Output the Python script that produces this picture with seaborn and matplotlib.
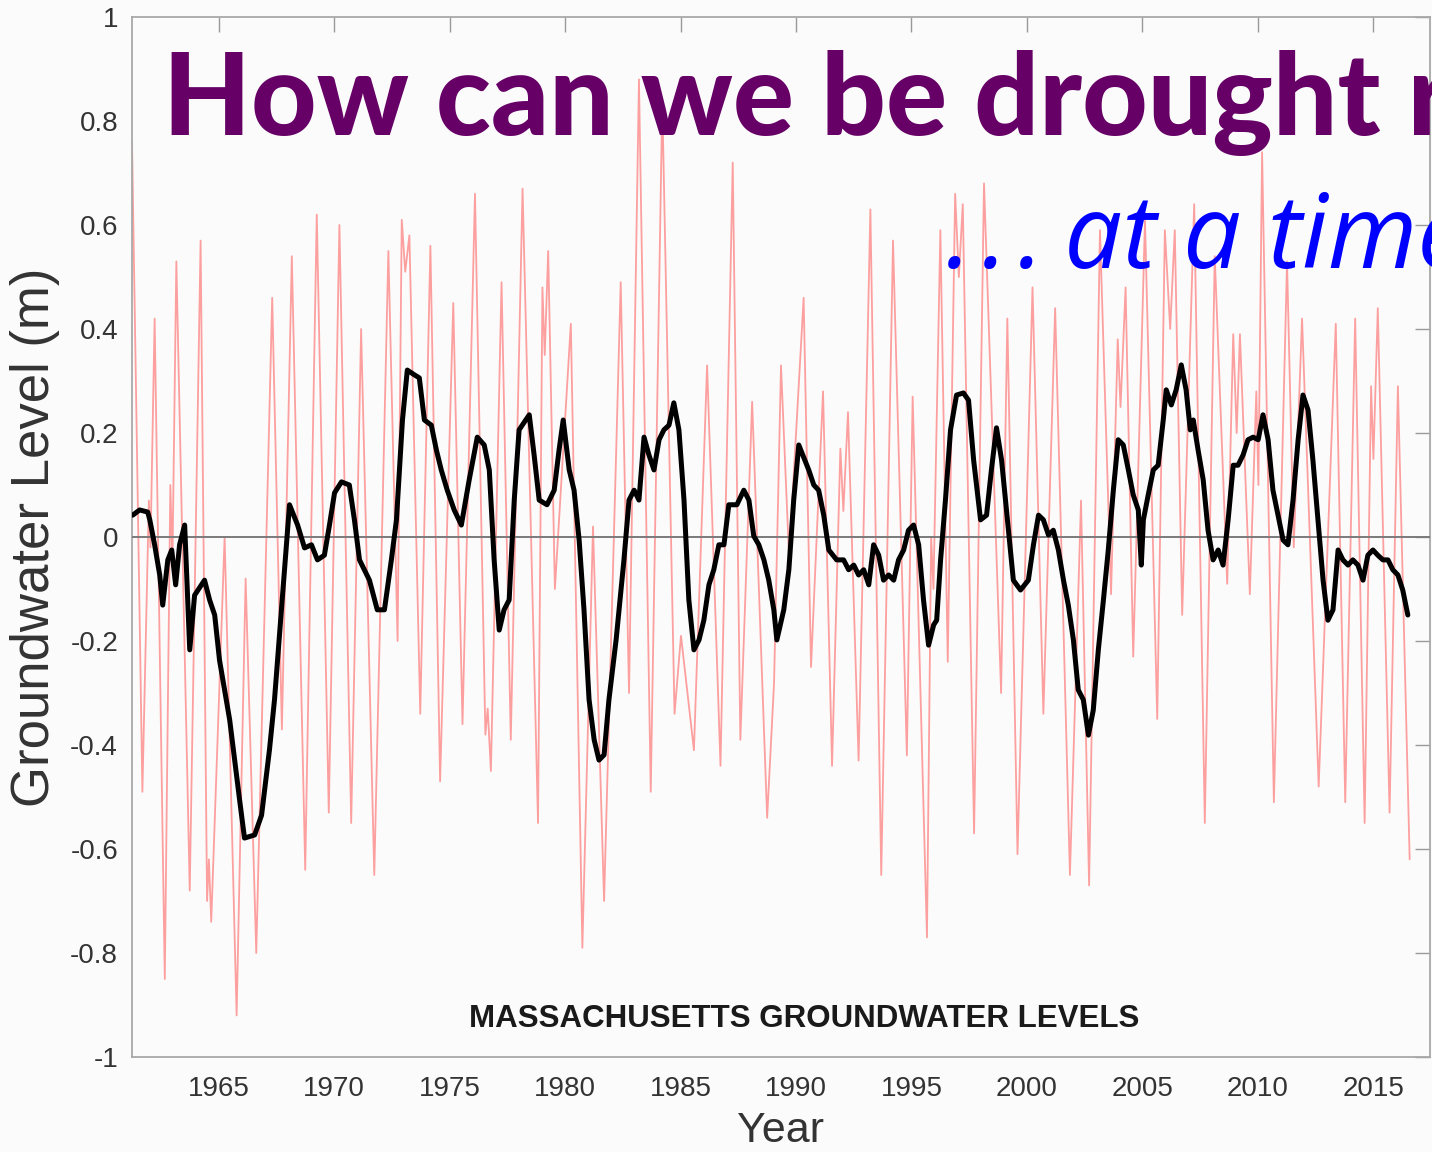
import matplotlib
matplotlib.use("Agg")
import matplotlib.pyplot as plt
import seaborn as sns
import pandas as pd

# Monthly-scale groundwater anomaly (seasonal swings), metres
red_years = [1961.25, 1961.40, 1961.70, 1961.98, 1962.05, 1962.23, 1962.67, 1962.91, 1963.00, 1963.17,
             1963.75, 1964.22, 1964.50, 1964.58, 1964.68, 1965.26, 1965.78, 1966.17, 1966.63, 1967.32,
             1967.74, 1968.17, 1968.75, 1969.25, 1969.77, 1970.23, 1970.74, 1971.17, 1971.74, 1972.35,
             1972.75, 1972.93, 1973.08, 1973.26, 1973.73, 1974.17, 1974.59, 1975.16, 1975.56, 1976.10,
             1976.55, 1976.65, 1976.79, 1977.25, 1977.65, 1978.16, 1978.83, 1979.02, 1979.12, 1979.27,
             1979.56, 1980.25, 1980.75, 1981.21, 1981.69, 1982.41, 1982.77, 1983.20, 1983.71, 1984.21,
             1984.74, 1985.02, 1985.58, 1986.15, 1986.73, 1987.26, 1987.59, 1988.10, 1988.75, 1989.05,
             1989.35, 1989.70, 1990.33, 1990.65, 1991.17, 1991.56, 1991.92, 1992.05, 1992.25, 1992.71,
             1993.22, 1993.69, 1994.20, 1994.80, 1995.05, 1995.67, 1995.85, 1995.95, 1996.25, 1996.57,
             1996.89, 1997.05, 1997.22, 1997.71, 1998.14, 1998.88, 1999.15, 1999.59, 2000.24, 2000.71,
             2001.22, 2001.86, 2002.34, 2002.69, 2003.16, 2003.64, 2003.93, 2004.05, 2004.27, 2004.60,
             2005.11, 2005.64, 2005.97, 2006.20, 2006.40, 2006.72, 2007.24, 2007.70, 2008.13, 2008.67,
             2008.93, 2009.08, 2009.22, 2009.65, 2009.93, 2010.02, 2010.18, 2010.69, 2011.26, 2011.55,
             2011.91, 2012.63, 2013.37, 2013.78, 2014.21, 2014.62, 2014.90, 2015.00, 2015.19, 2015.70,
             2016.06, 2016.57]
red_levels = [0.76, 0.35, -0.49, 0.07, -0.02, 0.42, -0.85, 0.10, -0.05, 0.53,
              -0.68, 0.57, -0.70, -0.62, -0.74, 0.00, -0.92, -0.08, -0.80, 0.46,
              -0.37, 0.54, -0.64, 0.62, -0.53, 0.60, -0.55, 0.40, -0.65, 0.55,
              -0.20, 0.61, 0.51, 0.58, -0.34, 0.56, -0.47, 0.45, -0.36, 0.66,
              -0.38, -0.33, -0.45, 0.49, -0.39, 0.67, -0.55, 0.48, 0.35, 0.55,
              -0.10, 0.41, -0.79, 0.02, -0.70, 0.49, -0.30, 0.88, -0.49, 0.84,
              -0.34, -0.19, -0.41, 0.33, -0.44, 0.72, -0.39, 0.26, -0.54, -0.28,
              0.33, -0.04, 0.46, -0.25, 0.28, -0.44, 0.17, 0.05, 0.24, -0.43,
              0.63, -0.65, 0.57, -0.42, 0.27, -0.77, 0.00, -0.10, 0.59, -0.24,
              0.66, 0.50, 0.64, -0.57, 0.68, -0.30, 0.42, -0.61, 0.48, -0.34,
              0.44, -0.65, 0.07, -0.67, 0.59, -0.11, 0.38, 0.25, 0.48, -0.23,
              0.61, -0.35, 0.59, 0.40, 0.59, -0.15, 0.64, -0.55, 0.54, -0.09,
              0.39, 0.20, 0.39, -0.11, 0.28, 0.10, 0.74, -0.51, 0.53, -0.02,
              0.42, -0.48, 0.41, -0.51, 0.42, -0.55, 0.29, 0.15, 0.44, -0.53,
              0.29, -0.62]

# Smoothed (running-mean) groundwater level, metres
smooth_years = [1961.28, 1961.58, 1961.93, 1962.02, 1962.23, 1962.45, 1962.58, 1962.80, 1962.97, 1963.14,
                1963.31, 1963.53, 1963.75, 1963.96, 1964.39, 1964.61, 1964.83, 1965.04, 1965.48, 1965.91,
                1966.12, 1966.56, 1966.86, 1967.20, 1967.42, 1967.72, 1968.07, 1968.42, 1968.72, 1969.02,
                1969.28, 1969.58, 1969.80, 1970.02, 1970.32, 1970.66, 1970.88, 1971.10, 1971.53, 1971.87,
                1972.18, 1972.48, 1972.70, 1972.96, 1973.17, 1973.47, 1973.69, 1973.91, 1974.21, 1974.43,
                1974.64, 1974.90, 1975.20, 1975.51, 1975.85, 1976.20, 1976.50, 1976.72, 1976.93, 1977.15,
                1977.36, 1977.58, 1977.80, 1978.01, 1978.45, 1978.66, 1978.88, 1979.22, 1979.53, 1979.74,
                1979.92, 1980.18, 1980.39, 1980.61, 1980.82, 1981.04, 1981.26, 1981.47, 1981.69, 1981.90,
                1982.21, 1982.55, 1982.77, 1982.99, 1983.20, 1983.42, 1983.63, 1983.85, 1984.07, 1984.28,
                1984.50, 1984.71, 1984.93, 1985.15, 1985.36, 1985.58, 1985.80, 1986.01, 1986.23, 1986.44,
                1986.66, 1986.88, 1987.09, 1987.44, 1987.74, 1987.96, 1988.17, 1988.39, 1988.61, 1988.82,
                1989.04, 1989.17, 1989.47, 1989.69, 1989.90, 1990.12, 1990.55, 1990.77, 1990.98, 1991.20,
                1991.42, 1991.76, 1992.06, 1992.28, 1992.50, 1992.71, 1992.93, 1993.15, 1993.36, 1993.58,
                1993.79, 1994.01, 1994.23, 1994.44, 1994.66, 1994.87, 1995.09, 1995.31, 1995.52, 1995.74,
                1995.96, 1996.09, 1996.26, 1996.47, 1996.69, 1996.95, 1997.25, 1997.47, 1997.69, 1997.99,
                1998.25, 1998.46, 1998.68, 1998.90, 1999.11, 1999.41, 1999.72, 2000.06, 2000.28, 2000.50,
                2000.71, 2000.93, 2001.14, 2001.36, 2001.58, 2001.79, 2002.01, 2002.22, 2002.44, 2002.66,
                2002.87, 2003.09, 2003.31, 2003.52, 2003.74, 2003.95, 2004.17, 2004.39, 2004.60, 2004.82,
                2004.95, 2005.04, 2005.25, 2005.47, 2005.68, 2005.90, 2006.03, 2006.25, 2006.46, 2006.68,
                2006.89, 2007.07, 2007.20, 2007.41, 2007.63, 2007.84, 2008.06, 2008.28, 2008.49, 2008.71,
                2008.93, 2009.14, 2009.36, 2009.57, 2009.79, 2010.01, 2010.22, 2010.44, 2010.65, 2010.87,
                2011.09, 2011.30, 2011.52, 2011.74, 2011.95, 2012.17, 2012.38, 2012.60, 2012.82, 2013.03,
                2013.25, 2013.47, 2013.68, 2013.90, 2014.11, 2014.33, 2014.55, 2014.76, 2014.98, 2015.19,
                2015.41, 2015.63, 2015.84, 2016.06, 2016.27, 2016.49]
smooth_levels = [0.042, 0.052, 0.048, 0.033, -0.015, -0.073, -0.131, -0.044, -0.025, -0.092,
                 -0.015, 0.023, -0.217, -0.112, -0.083, -0.121, -0.150, -0.237, -0.352, -0.506,
                 -0.579, -0.573, -0.535, -0.410, -0.313, -0.140, 0.062, 0.023, -0.021, -0.015,
                 -0.044, -0.035, 0.023, 0.085, 0.106, 0.100, 0.033, -0.044, -0.083, -0.140,
                 -0.140, -0.044, 0.033, 0.225, 0.321, 0.312, 0.306, 0.225, 0.215, 0.167,
                 0.129, 0.090, 0.052, 0.023, 0.110, 0.192, 0.177, 0.129, -0.044, -0.179,
                 -0.140, -0.121, 0.071, 0.206, 0.235, 0.158, 0.071, 0.062, 0.090, 0.167,
                 0.225, 0.129, 0.090, -0.006, -0.140, -0.313, -0.390, -0.429, -0.419, -0.313,
                 -0.198, -0.044, 0.071, 0.090, 0.071, 0.192, 0.158, 0.129, 0.187, 0.206,
                 0.215, 0.258, 0.206, 0.071, -0.121, -0.217, -0.198, -0.160, -0.092, -0.063,
                 -0.015, -0.015, 0.062, 0.062, 0.090, 0.071, 0.002, -0.015, -0.044, -0.083,
                 -0.140, -0.198, -0.140, -0.063, 0.071, 0.177, 0.129, 0.100, 0.090, 0.042,
                 -0.025, -0.044, -0.044, -0.063, -0.054, -0.073, -0.063, -0.092, -0.015, -0.035,
                 -0.083, -0.073, -0.083, -0.044, -0.025, 0.013, 0.023, -0.015, -0.121, -0.208,
                 -0.169, -0.160, -0.044, 0.071, 0.206, 0.273, 0.277, 0.263, 0.148, 0.033,
                 0.042, 0.129, 0.210, 0.148, 0.052, -0.083, -0.102, -0.083, -0.015, 0.042,
                 0.033, 0.004, 0.013, -0.025, -0.083, -0.131, -0.198, -0.294, -0.313, -0.381,
                 -0.333, -0.217, -0.121, -0.025, 0.090, 0.187, 0.177, 0.129, 0.081, 0.052,
                 -0.054, 0.033, 0.081, 0.129, 0.138, 0.225, 0.283, 0.254, 0.283, 0.331,
                 0.283, 0.206, 0.225, 0.167, 0.110, 0.013, -0.044, -0.025, -0.054, 0.033,
                 0.138, 0.138, 0.158, 0.187, 0.192, 0.187, 0.235, 0.187, 0.090, 0.042,
                 -0.006, -0.015, 0.071, 0.187, 0.273, 0.244, 0.148, 0.033, -0.083, -0.160,
                 -0.140, -0.025, -0.044, -0.054, -0.044, -0.054, -0.083, -0.035, -0.025, -0.035,
                 -0.044, -0.044, -0.063, -0.073, -0.102, -0.150]

year_ticks = [1965, 1970, 1975, 1980, 1985, 1990, 1995, 2000, 2005, 2010, 2015]
level_ticks = [-1, -0.8, -0.6, -0.4, -0.2, 0, 0.2, 0.4, 0.6, 0.8, 1]
level_tick_labels = ["-1", "-0.8", "-0.6", "-0.4", "-0.2", "0", "0.2", "0.4", "0.6", "0.8", "1"]

monthly = pd.DataFrame({"year": red_years, "level": red_levels})
smoothed = pd.DataFrame({"year": smooth_years, "level": smooth_levels})

sns.set_theme(style="white")
plt.rcParams["font.family"] = ["Liberation Sans", "DejaVu Sans"]

bg = "#fbfbfb"
W, H = 1432, 1152
fig = plt.figure(figsize=(W / 100, H / 100), dpi=100, facecolor=bg)
ax = fig.add_axes([132 / W, 95 / H, 1298 / W, 1040 / H], facecolor=bg)

sns.lineplot(data=monthly, x="year", y="level", ax=ax, estimator=None, sort=False,
             color="#ff3030", alpha=0.45, linewidth=1.3, zorder=2)
ax.axhline(0, color="#7a7a7a", linewidth=1.4, zorder=3)
sns.lineplot(data=smoothed, x="year", y="level", ax=ax, estimator=None, sort=False,
             color="black", linewidth=3.6, zorder=4)

ax.set_xlim(1961.25, 2017.45)
ax.set_ylim(-1, 1)
ax.set_xticks(year_ticks)
ax.set_xticklabels([str(y) for y in year_ticks])
ax.set_yticks(level_ticks)
ax.set_yticklabels(level_tick_labels)
ax.tick_params(direction="in", length=11, width=1.0, color="#9a9a9a",
               top=True, right=True, labelsize=20, labelcolor="#333333")
ax.tick_params(axis="x", pad=14)
ax.tick_params(axis="y", pad=10)
for s in ax.spines.values():
    s.set_color("#a8a8a8")
    s.set_linewidth(1.3)

ax.set_xlabel("Year", fontsize=31, color="#333333")
ax.set_ylabel("Groundwater Level (m)", fontsize=38, color="#333333")
ax.xaxis.set_label_coords(0.5, -0.052)
ax.yaxis.set_label_coords(-0.0554, 0.5)

ax.text(0.518, 0.037, "MASSACHUSETTS GROUNDWATER LEVELS", transform=ax.transAxes,
        ha="center", va="center", fontsize=22.5, fontweight="bold", color="#1a1a1a")

fig.text(163 / W, 1 - 135 / H, "How can we be drought ready", fontsize=82,
         fontweight=900, family=["Lato", "DejaVu Sans"], color="#660066",
         ha="left", va="baseline", zorder=10)
fig.text(946 / W, 1 - 268 / H, ".\u200a.\u200a.\u200a\u200aat a time", fontsize=74, style="italic",
         family=["Open Sans", "DejaVu Sans"], color="#0000ff",
         ha="left", va="baseline", zorder=10)

fig.savefig("out.png", dpi=100, facecolor=bg)
